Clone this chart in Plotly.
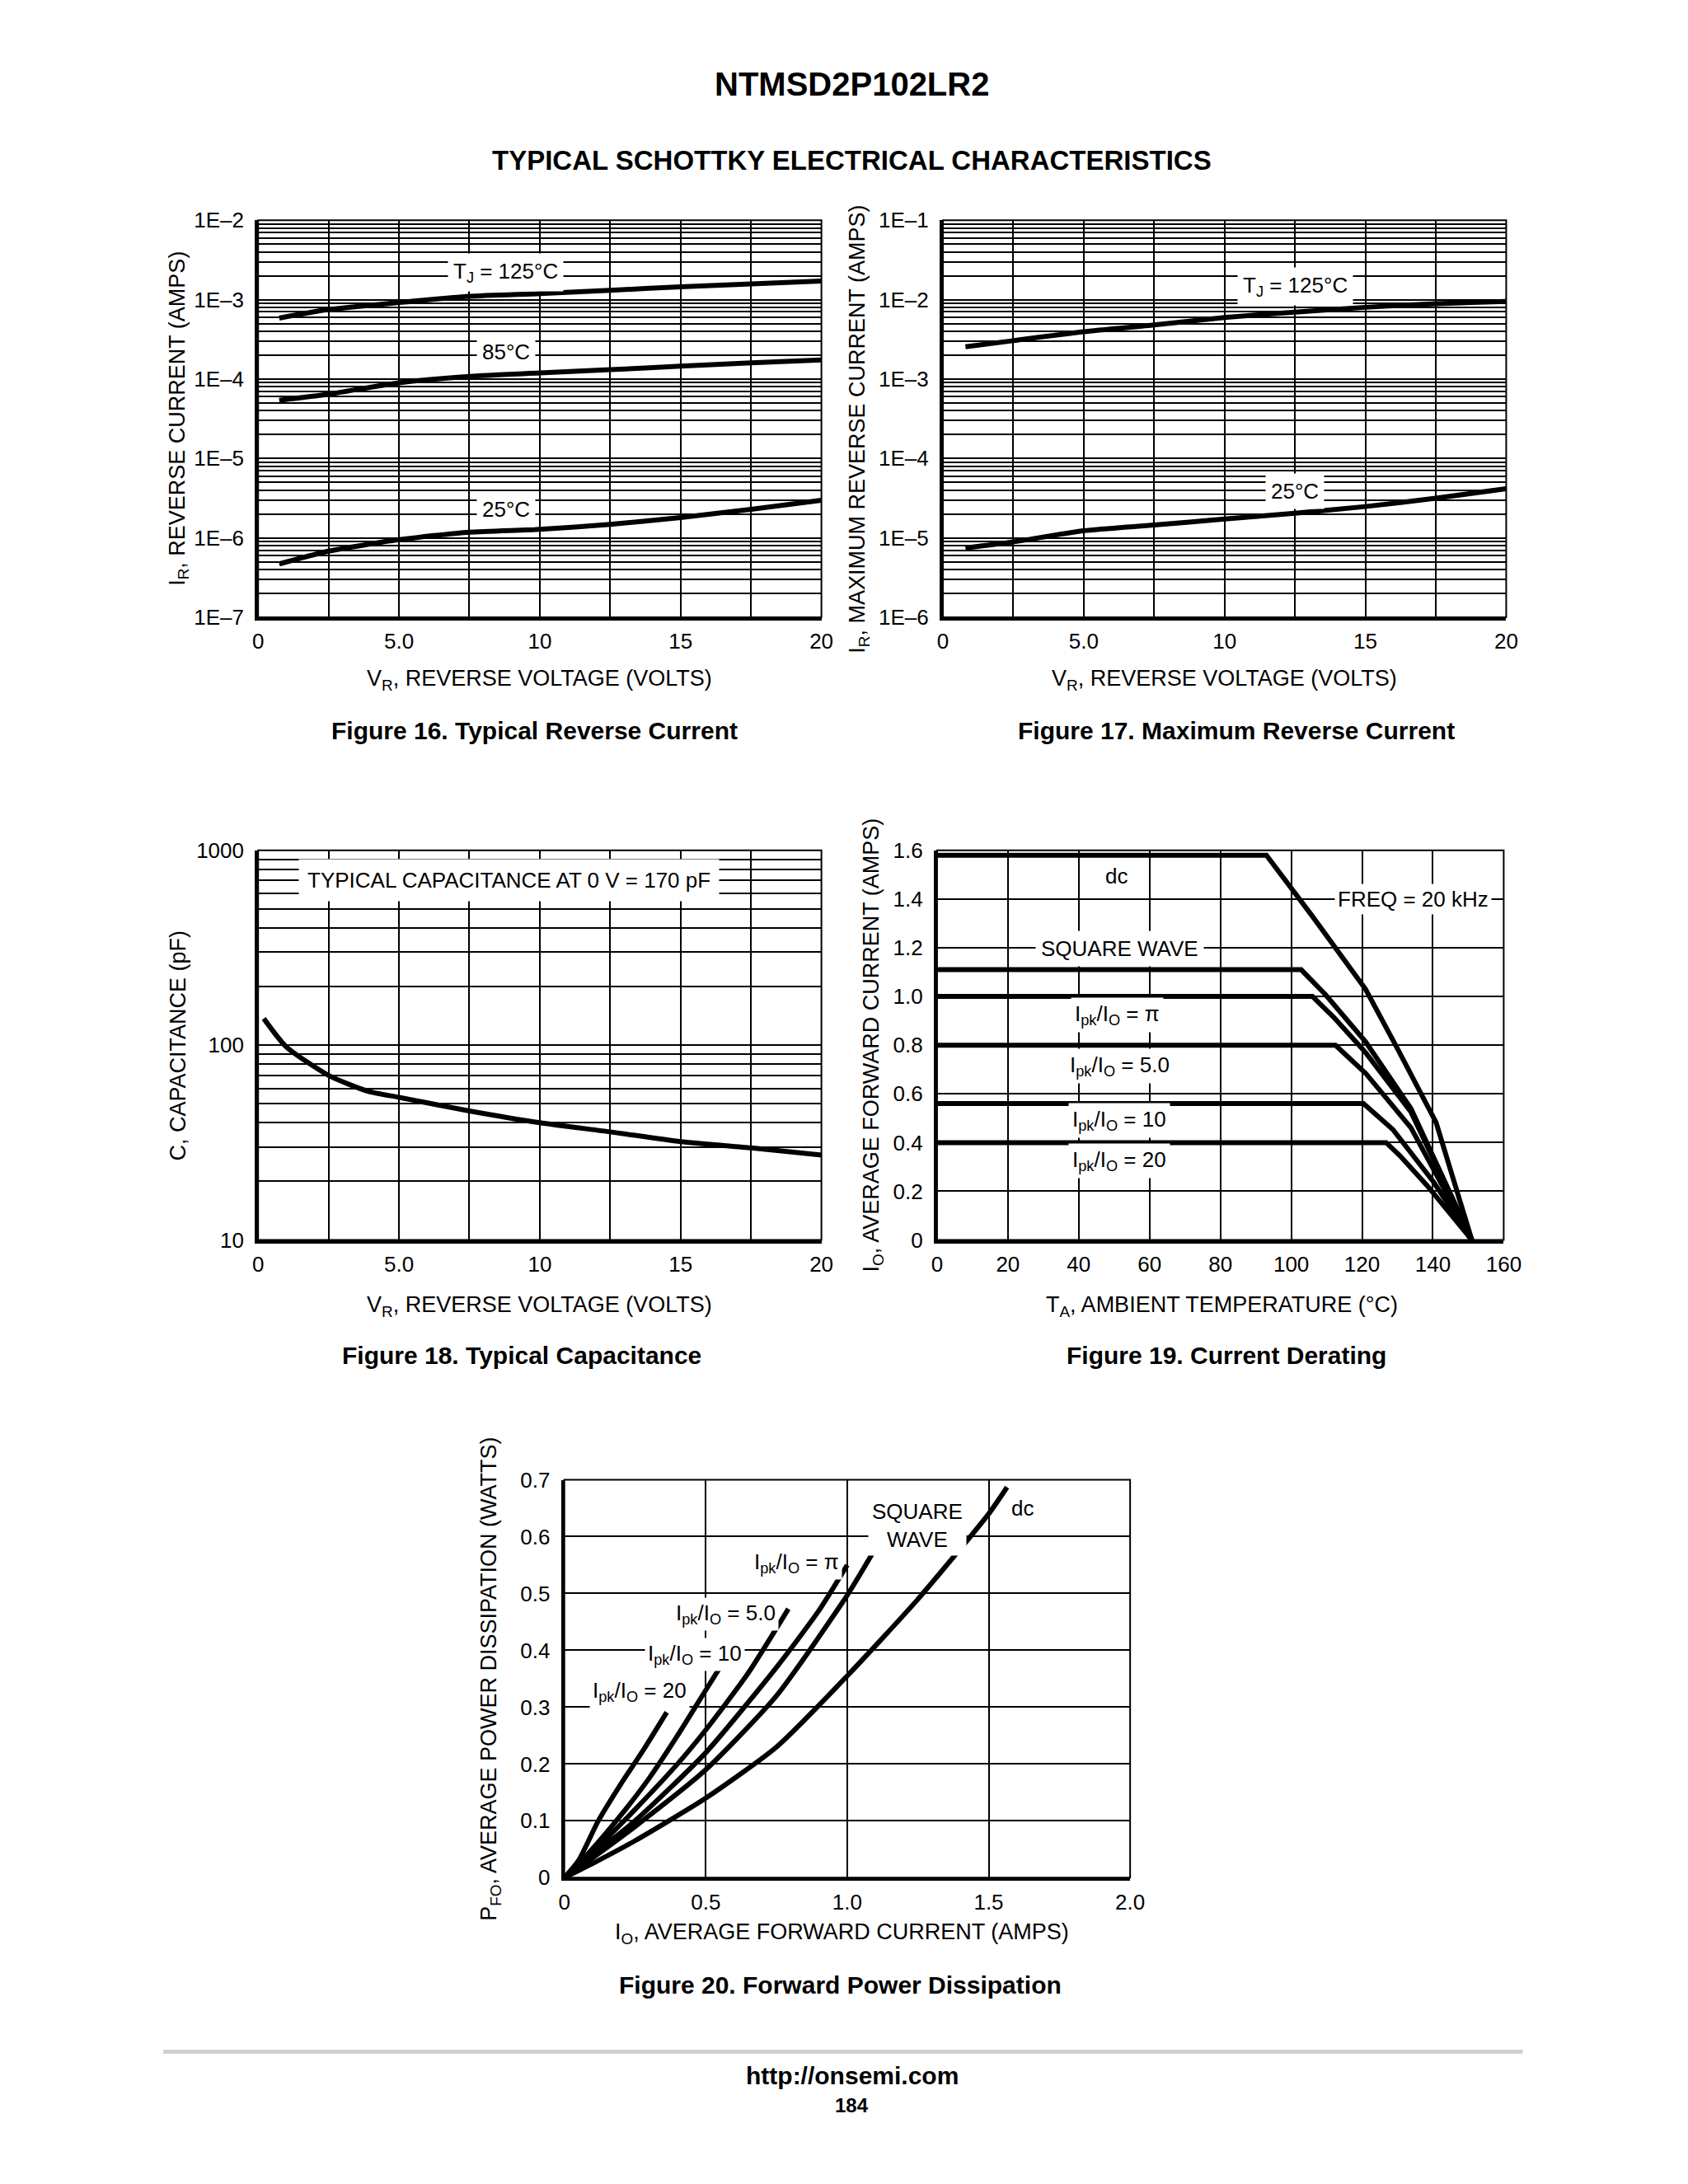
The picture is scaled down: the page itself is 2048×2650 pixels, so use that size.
import math
import plotly.graph_objects as go

W, H = 2048, 2650
FONT = "Liberation Sans, Arial, Helvetica, sans-serif"

# ---------------- data ----------------
# Figure 16 – typical reverse current
f16_v = [0.75, 2.5, 5.0, 7.5, 10, 12.5, 15, 17.5, 20]
f16_125 = [5.85e-4, 7.5e-4, 9.2e-4, 1.1e-3, 1.19e-3, 1.31e-3, 1.45e-3, 1.58e-3, 1.71e-3]
f16_85 = [5.4e-5, 6.45e-5, 8.98e-5, 1.08e-4, 1.19e-4, 1.31e-4, 1.45e-4, 1.6e-4, 1.74e-4]
f16_25 = [4.7e-7, 6.8e-7, 9.5e-7, 1.18e-6, 1.28e-6, 1.48e-6, 1.8e-6, 2.29e-6, 2.98e-6]

# Figure 17 – maximum reverse current
f17_v = [0.8, 2.5, 5.0, 7.5, 10, 12.5, 15, 17.5, 20]
f17_125 = [2.55e-3, 3.04e-3, 3.95e-3, 4.8e-3, 5.95e-3, 6.97e-3, 8.0e-3, 8.9e-3, 9.5e-3]
f17_25 = [7.46e-6, 8.9e-6, 1.23e-5, 1.45e-5, 1.73e-5, 2.04e-5, 2.48e-5, 3.16e-5, 4.16e-5]

# Figure 18 – typical capacitance
f18_v = [0.2, 1.0, 2.5, 3.9, 5.0, 7.5, 10, 12.5, 15, 17.5, 20]
f18_c = [137, 98, 70, 58, 54, 46, 40, 35.9, 32, 29.7, 27.3]

# Figure 19 – current derating
f19_dc_t = [0, 93, 105.7, 121, 130, 140.9, 151]
f19_dc_i = [1.58, 1.58, 1.335, 1.03, 0.786, 0.483, 0]
f19_sq_t = [0, 102.8, 109.6, 121, 133.8, 151]
f19_sq_i = [1.11, 1.11, 1.009, 0.814, 0.54, 0]
f19_pi_t = [0, 106, 112, 121, 133.8, 151]
f19_pi_i = [1.0, 1.0, 0.915, 0.77, 0.526, 0]
f19_5_t = [0, 112.5, 121, 133.8, 151]
f19_5_i = [0.8, 0.8, 0.685, 0.461, 0]
f19_10_t = [0, 120.4, 128.7, 140.2, 151]
f19_10_i = [0.56, 0.56, 0.454, 0.238, 0]
f19_20_t = [0, 126.8, 130.7, 138.4, 151]
f19_20_i = [0.40, 0.40, 0.346, 0.223, 0]

# Figure 20 – forward power dissipation
f20_20_i = [0, 0.05, 0.12, 0.2, 0.28, 0.362]
f20_20_p = [0, 0.03, 0.1, 0.165, 0.225, 0.291]
f20_10_i = [0, 0.08, 0.2, 0.3, 0.4, 0.5, 0.549]
f20_10_p = [0, 0.04, 0.11, 0.175, 0.25, 0.33, 0.369]
f20_5_i = [0, 0.1, 0.25, 0.4, 0.5, 0.65, 0.792]
f20_5_p = [0, 0.045, 0.12, 0.2, 0.26, 0.36, 0.473]
f20_pi_i = [0, 0.1, 0.25, 0.5, 0.75, 0.9, 1.0]
f20_pi_p = [0, 0.04, 0.1, 0.22, 0.37, 0.47, 0.55]
f20_sq_i = [0, 0.1, 0.25, 0.5, 0.75, 1.0, 1.104]
f20_sq_p = [0, 0.035, 0.09, 0.19, 0.32, 0.497, 0.583]
f20_dc_i = [0, 0.1, 0.25, 0.5, 0.75, 1.0, 1.25, 1.5, 1.565]
f20_dc_p = [0, 0.025, 0.065, 0.14, 0.23, 0.355, 0.49, 0.64, 0.687]

# tick labels
log_ticks_16 = [1e-7, 1e-6, 1e-5, 1e-4, 1e-3, 1e-2]
log_text_16 = ["1E\u20137", "1E\u20136", "1E\u20135", "1E\u20134", "1E\u20133", "1E\u20132"]
log_ticks_17 = [1e-6, 1e-5, 1e-4, 1e-3, 1e-2, 1e-1]
log_text_17 = ["1E\u20136", "1E\u20135", "1E\u20134", "1E\u20133", "1E\u20132", "1E\u20131"]
vr_ticks = [0, 5, 10, 15, 20]
vr_text = ["0", "5.0", "10", "15", "20"]
cap_ticks = [10, 100, 1000]
cap_text = ["10", "100", "1000"]
ta_ticks = [0, 20, 40, 60, 80, 100, 120, 140, 160]
ta_text = ["0", "20", "40", "60", "80", "100", "120", "140", "160"]
io_ticks = [0, 0.2, 0.4, 0.6, 0.8, 1.0, 1.2, 1.4, 1.6]
io_text = ["0", "0.2", "0.4", "0.6", "0.8", "1.0", "1.2", "1.4", "1.6"]
pf_ticks = [0, 0.1, 0.2, 0.3, 0.4, 0.5, 0.6, 0.7]
pf_text = ["0", "0.1", "0.2", "0.3", "0.4", "0.5", "0.6", "0.7"]
if_ticks = [0, 0.5, 1.0, 1.5, 2.0]
if_text = ["0", "0.5", "1.0", "1.5", "2.0"]

# ---------------- layout helpers ----------------
# page-pixel placement, with a small global scale correction
SX, SY, CX, CY = 1.024, 1.0217, 624.0, 1049.0

def PX(x):
    return CX + SX * (x - CX)

def PY(y):
    return CY + SY * (y - CY)

def px_dom_x(a, b):
    return [PX(a) / W, PX(b) / W]

def px_dom_y(top, bottom):
    return [1 - PY(bottom) / H, 1 - PY(top) / H]

BOX = {
    1: (310, 987, 264, 741),
    2: (1133, 1810, 264, 741),
    3: (310, 987, 1021, 1489),
    4: (1126, 1807, 1021, 1489),
    5: (678, 1358, 1777, 2255),
}

def minor_log(lo, hi):
    vals = []
    for e in range(lo, hi):
        for k in range(2, 10):
            vals.append(k * 10 ** e)
    return vals

TICKFONT = dict(family=FONT, size=26, color="black")
GRID_W = 1.6
CURVE_W = 6

def base_axis(dom):
    return dict(domain=dom, showline=True, linecolor="black", linewidth=4,
                showgrid=True, gridcolor="black", gridwidth=GRID_W,
                zeroline=False, ticks="", tickfont=TICKFONT, fixedrange=True)

fig = go.Figure()

def line(x, y, n, shape="spline"):
    xa = "x" if n == 1 else f"x{n}"
    ya = "y" if n == 1 else f"y{n}"
    fig.add_trace(go.Scatter(x=x, y=y, mode="lines", xaxis=xa, yaxis=ya,
                             line=dict(color="black", width=CURVE_W, shape=shape, smoothing=0.6),
                             showlegend=False, hoverinfo="skip", cliponaxis=True))

line(f16_v, f16_125, 1)
line(f16_v, f16_85, 1)
line(f16_v, f16_25, 1)
line(f17_v, f17_125, 2)
line(f17_v, f17_25, 2)
line(f18_v, f18_c, 3)
for t, i in [(f19_dc_t, f19_dc_i), (f19_sq_t, f19_sq_i), (f19_pi_t, f19_pi_i),
             (f19_5_t, f19_5_i), (f19_10_t, f19_10_i), (f19_20_t, f19_20_i)]:
    line(t, i, 4, shape="linear")
for a, b in [(f20_20_i, f20_20_p), (f20_10_i, f20_10_p), (f20_5_i, f20_5_p),
             (f20_pi_i, f20_pi_p), (f20_sq_i, f20_sq_p), (f20_dc_i, f20_dc_p)]:
    line(a, b, 5)

layout = dict(width=W, height=H, margin=dict(l=0, r=0, t=0, b=0),
              paper_bgcolor="white", plot_bgcolor="white", showlegend=False,
              font=dict(family=FONT, color="black"))

XSO, YSO = 3, 8
minor_v = dict(tickvals=[2.5, 7.5, 12.5, 17.5], showgrid=True, gridcolor="black", gridwidth=GRID_W)

# Fig 16
b = BOX[1]
xa = base_axis(px_dom_x(b[0], b[1]))
xa.update(range=[0, 20], tickvals=vr_ticks, ticktext=vr_text, anchor="y", ticklabelstandoff=XSO,
          minor=minor_v)
ya = base_axis(px_dom_y(b[2], b[3]))
ya.update(type="log", range=[-7, -2], tickvals=log_ticks_16, ticktext=log_text_16, anchor="x",
          ticklabelstandoff=YSO,
          minor=dict(tickvals=minor_log(-7, -2), showgrid=True, gridcolor="black", gridwidth=GRID_W))
layout["xaxis"] = xa
layout["yaxis"] = ya

# Fig 17
b = BOX[2]
xa = base_axis(px_dom_x(b[0], b[1]))
xa.update(range=[0, 20], tickvals=vr_ticks, ticktext=vr_text, anchor="y2", ticklabelstandoff=XSO,
          minor=minor_v)
ya = base_axis(px_dom_y(b[2], b[3]))
ya.update(type="log", range=[-6, -1], tickvals=log_ticks_17, ticktext=log_text_17, anchor="x2",
          ticklabelstandoff=YSO,
          minor=dict(tickvals=minor_log(-6, -1), showgrid=True, gridcolor="black", gridwidth=GRID_W))
layout["xaxis2"] = xa
layout["yaxis2"] = ya

# Fig 18
b = BOX[3]
xa = base_axis(px_dom_x(b[0], b[1]))
xa.update(range=[0, 20], tickvals=vr_ticks, ticktext=vr_text, anchor="y3", ticklabelstandoff=XSO,
          minor=minor_v)
ya = base_axis(px_dom_y(b[2], b[3]))
ya.update(type="log", range=[1, 3], tickvals=cap_ticks, ticktext=cap_text, anchor="x3",
          ticklabelstandoff=YSO,
          minor=dict(tickvals=minor_log(1, 3), showgrid=True, gridcolor="black", gridwidth=GRID_W))
layout["xaxis3"] = xa
layout["yaxis3"] = ya

# Fig 19
b = BOX[4]
xa = base_axis(px_dom_x(b[0], b[1]))
xa.update(range=[0, 160], tickvals=ta_ticks, ticktext=ta_text, anchor="y4", ticklabelstandoff=XSO)
ya = base_axis(px_dom_y(b[2], b[3]))
ya.update(range=[0, 1.6], tickvals=io_ticks, ticktext=io_text, anchor="x4", ticklabelstandoff=YSO)
layout["xaxis4"] = xa
layout["yaxis4"] = ya

# Fig 20
b = BOX[5]
xa = base_axis(px_dom_x(b[0], b[1]))
xa.update(range=[0, 2.0], tickvals=if_ticks, ticktext=if_text, anchor="y5", ticklabelstandoff=XSO)
ya = base_axis(px_dom_y(b[2], b[3]))
ya.update(range=[0, 0.7], tickvals=pf_ticks, ticktext=pf_text, anchor="x5", ticklabelstandoff=YSO)
layout["xaxis5"] = xa
layout["yaxis5"] = ya

fig.update_layout(**layout)

# thin frame on the top / right
for n in range(1, 6):
    suf = "" if n == 1 else str(n)
    fig.add_shape(type="rect", xref=f"x{suf} domain", yref=f"y{suf} domain",
                  x0=0, x1=1, y0=0, y1=1, line=dict(color="black", width=2), layer="above")

ann = []

def page_text(x, y, text, size, angle=0):
    ann.append(dict(x=PX(x) / W, y=1 - PY(y) / H, xref="paper", yref="paper", text=text,
                    showarrow=False, textangle=angle, xanchor="center", yanchor="middle",
                    font=dict(family=FONT, size=size, color="black")))

def bold(t):
    return f"<b>{t}</b>"

page_text(1024, 100, bold("NTMSD2P102LR2"), 40)
page_text(1024, 192, bold("TYPICAL SCHOTTKY ELECTRICAL CHARACTERISTICS"), 33)

AX = 27
page_text(214, 502, "I<sub>R</sub>, REVERSE CURRENT (AMPS)", AX, angle=-90)
page_text(648, 816, "V<sub>R</sub>, REVERSE VOLTAGE (VOLTS)", AX)
page_text(1032, 515, "I<sub>R</sub>, MAXIMUM REVERSE CURRENT (AMPS)", AX, angle=-90)
page_text(1471, 816, "V<sub>R</sub>, REVERSE VOLTAGE (VOLTS)", AX)
page_text(214, 1255, "C, CAPACITANCE (pF)", AX, angle=-90)
page_text(648, 1569, "V<sub>R</sub>, REVERSE VOLTAGE (VOLTS)", AX)
page_text(1049, 1255, "I<sub>O</sub>, AVERAGE FORWARD CURRENT (AMPS)", AX, angle=-90)
page_text(1468, 1569, "T<sub>A</sub>, AMBIENT TEMPERATURE (\u00b0C)", AX)
page_text(589, 2016, "P<sub>FO</sub>, AVERAGE POWER DISSIPATION (WATTS)", AX, angle=-90)
page_text(1012, 2322, "I<sub>O</sub>, AVERAGE FORWARD CURRENT (AMPS)", AX)

CAP = 30
page_text(642, 877, bold("Figure 16. Typical Reverse Current"), CAP)
page_text(1486, 877, bold("Figure 17. Maximum Reverse Current"), CAP)
page_text(627, 1628, bold("Figure 18. Typical Capacitance"), CAP)
page_text(1474, 1628, bold("Figure 19. Current Derating"), CAP)
page_text(1010, 2384, bold("Figure 20. Forward Power Dissipation"), CAP)

page_text(1024, 2493, bold("http://onsemi.com"), 30)
page_text(1024, 2528, bold("184"), 24)

fig.add_shape(type="line", xref="paper", yref="paper", x0=PX(196) / W, x1=PX(1830) / W,
              y0=1 - PY(2464) / H, y1=1 - PY(2464) / H, line=dict(color="#d0d0d0", width=5))

LBL = 26

def label(n, x, y, text, pad=6, log=False):
    suf = "" if n == 1 else str(n)
    ann.append(dict(x=x, y=math.log10(y) if log else y, xref=f"x{suf}", yref=f"y{suf}",
                    text=text, showarrow=False, bgcolor="white", borderpad=pad,
                    font=dict(family=FONT, size=LBL, color="black")))

label(1, 8.8, 2.2e-3, "T<sub>J</sub> = 125\u00b0C", log=True)
label(1, 8.8, 2.2e-4, "85\u00b0C", log=True)
label(1, 8.8, 2.3e-6, "25\u00b0C", log=True)
label(2, 12.5, 1.45e-2, "T<sub>J</sub> = 125\u00b0C", log=True)
label(2, 12.5, 3.9e-5, "25\u00b0C", log=True)
label(3, 8.9, 700, "TYPICAL CAPACITANCE AT 0 V = 170 pF", pad=10, log=True)
label(4, 50.6, 1.495, "dc", pad=2)
label(4, 134.5, 1.40, "FREQ = 20 kHz", pad=3)
label(4, 51.5, 1.196, "SQUARE WAVE", pad=6)
label(4, 50.8, 0.923, "I<sub>pk</sub>/I<sub>O</sub> = \u03c0", pad=4)
label(4, 51.5, 0.713, "I<sub>pk</sub>/I<sub>O</sub> = 5.0", pad=4)
label(4, 51.5, 0.49, "I<sub>pk</sub>/I<sub>O</sub> = 10", pad=4)
label(4, 51.5, 0.324, "I<sub>pk</sub>/I<sub>O</sub> = 20", pad=4)
label(5, 1.248, 0.62, "SQUARE<br>WAVE", pad=4)
label(5, 1.62, 0.65, "dc", pad=2)
label(5, 0.82, 0.553, "I<sub>pk</sub>/I<sub>O</sub> = \u03c0", pad=3)
label(5, 0.57, 0.463, "I<sub>pk</sub>/I<sub>O</sub> = 5.0", pad=3)
label(5, 0.46, 0.393, "I<sub>pk</sub>/I<sub>O</sub> = 10", pad=3)
label(5, 0.265, 0.327, "I<sub>pk</sub>/I<sub>O</sub> = 20", pad=3)

fig.update_layout(annotations=ann)
fig.write_html("out.html")
